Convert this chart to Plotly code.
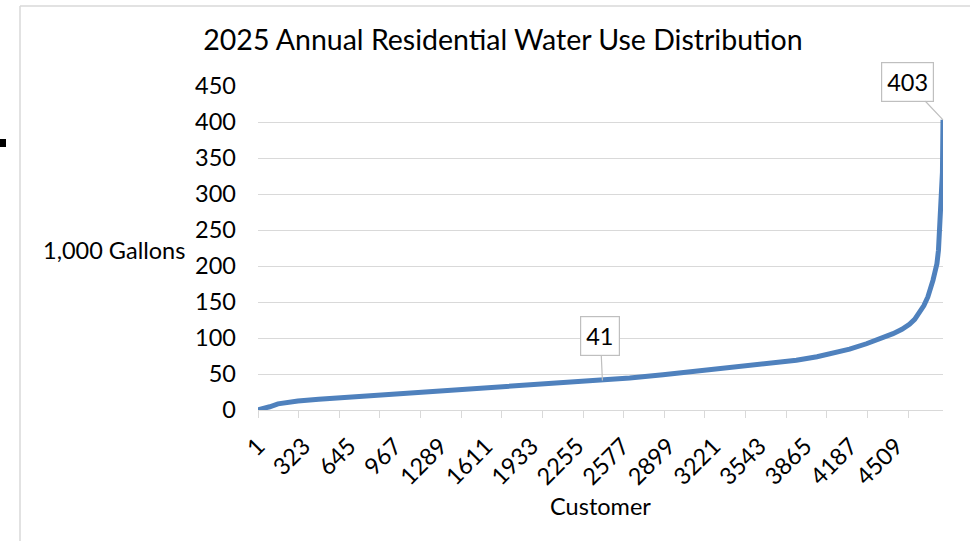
import plotly.graph_objects as go

# Customers ranked by annual use (thousand gallons), sampled along the sorted curve
customer_rank = [1, 40, 84, 142, 200, 283, 430, 578, 720, 860, 1000, 1143, 1355, 1520,
                 1756, 1991, 2226, 2434, 2627, 2862, 3098, 3333, 3569, 3804, 3950, 4063,
                 4180, 4299, 4400, 4487, 4550, 4603, 4640, 4674, 4705, 4733, 4752, 4769,
                 4781, 4797, 4808, 4816, 4828, 4836, 4840]
usage_kgal = [0.3, 2, 4.5, 8.5, 10.5, 12.5, 15, 17, 19.3, 21.4, 23, 24.8, 27.3, 29,
              32, 35.5, 38.2, 41, 44.5, 49, 54, 58.5, 63.5, 69, 74, 78.5,
              84.5, 92, 99, 106, 112, 119, 126, 136, 145, 157, 167, 180,
              190, 203, 222, 250, 287, 330, 403]

x_tick_labels = [1, 323, 645, 967, 1289, 1611, 1933, 2255, 2577, 2899, 3221, 3543, 3865, 4187, 4509]
y_tick_values = [0, 50, 100, 150, 200, 250, 300, 350, 400, 450]

# Callouts: median customer and the largest user
callout_rank = [2434, 4840]
callout_value = [41, 403]

W, H = 970, 541
L, R, T, B = 258, 27, 86, 131
PW, PH = W - L - R, H - T - B

FONT = "Lato"
TXT = "#000000"
GRID = "#D9D9D9"
LINE = "#4F81BD"
FS = 23.5


def px_x(px):
    return (px - L) / PW


def px_y(py):
    return (H - py - B) / PH


fig = go.Figure()
fig.add_trace(go.Scatter(
    x=customer_rank, y=usage_kgal, mode="lines",
    line=dict(color=LINE, width=5), hoverinfo="x+y", showlegend=False,
))
# invisible trace carrying the tick-mark axis
fig.add_trace(go.Scatter(
    x=[customer_rank[0], customer_rank[-1]], y=[0, 0], xaxis="x2",
    mode="lines", line=dict(width=0), hoverinfo="skip", showlegend=False,
))

tick_marks = list(range(1, customer_rank[-1] + 1, 287))

fig.update_layout(
    width=W, height=H,
    margin=dict(l=L, r=R, t=T, b=B, pad=0),
    paper_bgcolor="white", plot_bgcolor="white",
    font=dict(family=FONT, size=FS, color=TXT),
    title=dict(text="2025 Annual Residential Water Use Distribution",
               x=503 / W, xanchor="center",
               y=1 - 40 / H, yanchor="middle",
               font=dict(family=FONT, size=28.5, color=TXT)),
    xaxis=dict(
        range=[customer_rank[0], customer_rank[-1]],
        tickmode="array", tickvals=x_tick_labels,
        ticktext=[str(v) for v in x_tick_labels],
        tickangle=-45, ticks="", ticklabelstandoff=12,
        showgrid=False, zeroline=False,
        showline=True, linecolor=GRID, linewidth=1.3,
        tickfont=dict(family=FONT, size=FS, color=TXT),
        title=dict(text="Customer", font=dict(family=FONT, size=FS, color=TXT), standoff=9),
    ),
    xaxis2=dict(
        overlaying="x", anchor="y", side="bottom",
        range=[customer_rank[0], customer_rank[-1]],
        tickmode="array", tickvals=tick_marks, showticklabels=False,
        ticks="outside", ticklen=7, tickwidth=1.3, tickcolor=GRID,
        showgrid=False, zeroline=False, showline=False,
    ),
    yaxis=dict(
        range=[0, 450], tickmode="array", tickvals=y_tick_values,
        ticks="", ticklabelstandoff=21,
        showgrid=True, gridcolor=GRID, gridwidth=1.3,
        zeroline=False, showline=False,
        tickfont=dict(family=FONT, size=FS, color=TXT),
    ),
)

# y-axis title, set horizontally beside the tick labels
fig.add_annotation(
    text="1,000 Gallons", xref="paper", yref="paper",
    x=px_x(187), y=px_y(250), xanchor="right", yanchor="middle",
    showarrow=False, font=dict(family=FONT, size=FS, color=TXT),
)

# data-label callouts
offsets = [(-2, -44), (-36, -38)]
for rank, val, (ax, ay) in zip(callout_rank, callout_value, offsets):
    fig.add_annotation(
        x=rank, y=val, xref="x", yref="y", text=str(val),
        showarrow=True, arrowhead=0, arrowwidth=1.2, arrowcolor="#BFBFBF",
        ax=ax, ay=ay, bgcolor="white", bordercolor="#BFBFBF", borderwidth=1.2,
        borderpad=5, font=dict(family=FONT, size=FS, color=TXT),
    )

# chart-area frame (left and top edges)
fig.add_shape(type="line", xref="paper", yref="paper",
              x0=px_x(20), y0=px_y(6), x1=px_x(975), y1=px_y(6),
              line=dict(color=GRID, width=1.5), layer="below")
fig.add_shape(type="line", xref="paper", yref="paper",
              x0=px_x(20), y0=px_y(6), x1=px_x(20), y1=px_y(545),
              line=dict(color=GRID, width=1.5), layer="below")
# small dark block at the far left edge
fig.add_shape(type="rect", xref="paper", yref="paper",
              x0=px_x(0), y0=px_y(139), x1=px_x(6), y1=px_y(147),
              fillcolor="black", line=dict(width=0))

fig.write_html("out.html")
